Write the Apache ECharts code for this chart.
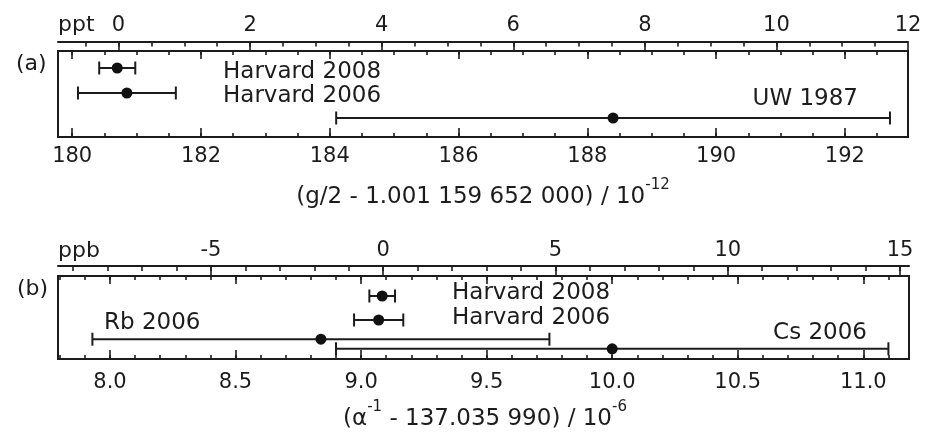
<!DOCTYPE html>
<html><head><meta charset="utf-8">
<script src="https://cdn.jsdelivr.net/npm/echarts@6/dist/echarts.min.js"></script>
<style>html,body{margin:0;padding:0;background:#fff}#c{width:935px;height:432px}</style>
</head><body><div id="c"></div>
<script>
// ---- data ----
const aNames = ['Harvard 2008', 'Harvard 2006', 'UW 1987'];
const aValues = [180.70, 180.85, 188.40];
const aErrors = [0.28, 0.76, 4.30];
const aRows = [0, 1, 2];

const bNames = ['Harvard 2008', 'Harvard 2006', 'Rb 2006', 'Cs 2006'];
const bValues = [9.084, 9.070, 8.84, 10.00];
const bErrors = [0.051, 0.098, 0.91, 1.10];
const bRows = [0, 1, 1.8, 2.2];

const aBottomTicks = [180, 182, 184, 186, 188, 190, 192];
const aTopTicks = [0, 2, 4, 6, 8, 10, 12];
const bBottomTicks = [8.0, 8.5, 9.0, 9.5, 10.0, 10.5, 11.0];
const bTopTicks = [-5, 0, 5, 10, 15];

const aTopUnit = 'ppt', bTopUnit = 'ppb';
const aPanel = '(a)', bPanel = '(b)';
const aTitleParts = ['(g/2 - 1.001 159 652 000) / 10', '-12'];
const bTitleParts = ['(\u03b1', '-1', ' - 137.035 990) / 10', '-6'];

// ---- helpers ----
function range(s, e, st) { const r = []; for (let v = s; v <= e + 1e-9; v += st) r.push(+v.toFixed(6)); return r; }
const INK = '#1c1c1c';
const FONT = 'DejaVu Sans';
const tickStyle = { color: INK, width: 1.6 };

function ax(o) {
  return Object.assign({
    type: 'value', axisLine: { show: false, onZero: false }, splitLine: { show: false },
    axisTick: { show: false }, axisLabel: { show: false }
  }, o);
}
function ticks(values, len) {
  return { show: true, inside: true, length: len, customValues: values, lineStyle: tickStyle };
}
function labels(values, margin, fmt) {
  return { show: true, customValues: values, margin: margin, color: INK, fontFamily: FONT, fontSize: 21, formatter: fmt };
}
const stripLine = { show: true, onZero: false, lineStyle: { color: INK, width: 2 } };

const aMin = 179.78, aMax = 192.98, aTopMin = -0.92, aTopMax = 12;
const bMin = 7.793, bMax = 11.182, bTopMin = -9.44, bTopMax = 15.26;

const grids = [
  // panel a
  { left: 58, right: 27, top: 51, height: 86, show: true, borderColor: INK, borderWidth: 2, backgroundColor: 'transparent' },
  { left: 58, right: 27, top: 51, height: 86 },
  { left: 58, right: 27, top: 42, height: 9 },
  { left: 58, right: 27, top: 42, height: 9 },
  // panel b
  { left: 58, right: 26, top: 276, height: 83, show: true, borderColor: INK, borderWidth: 2, backgroundColor: 'transparent' },
  { left: 58, right: 26, top: 276, height: 83 },
  { left: 58, right: 26, top: 266, height: 10 },
  { left: 58, right: 26, top: 266, height: 10 }
];

const xAxes = [
  // panel a
  ax({ gridIndex: 0, position: 'bottom', min: aMin, max: aMax, axisTick: ticks(aBottomTicks, 9), axisLabel: labels(aBottomTicks, 9, v => String(v)) }),
  ax({ gridIndex: 0, position: 'top', min: aMin, max: aMax, axisTick: ticks(aBottomTicks, 8) }),
  ax({ gridIndex: 1, position: 'bottom', min: aMin, max: aMax, axisTick: ticks(range(180, 192.5, 0.5), 4) }),
  ax({ gridIndex: 1, position: 'top', min: aMin, max: aMax, axisTick: ticks(range(180, 192.5, 0.5), 4) }),
  ax({ gridIndex: 2, position: 'top', min: aTopMin, max: aTopMax, axisLine: stripLine, axisTick: ticks(aTopTicks, 9), axisLabel: labels(aTopTicks, 6, v => String(v)) }),
  ax({ gridIndex: 3, position: 'top', min: aTopMin, max: aTopMax, axisTick: ticks(range(-0.5, 11.5, 0.5), 4.5) }),
  // panel b
  ax({ gridIndex: 4, position: 'bottom', min: bMin, max: bMax, axisTick: ticks(bBottomTicks, 9), axisLabel: labels(bBottomTicks, 13, v => v.toFixed(1)) }),
  ax({ gridIndex: 4, position: 'top', min: bMin, max: bMax, axisTick: ticks(bBottomTicks, 8) }),
  ax({ gridIndex: 5, position: 'bottom', min: bMin, max: bMax, axisTick: ticks(range(7.8, 11.1, 0.1), 4) }),
  ax({ gridIndex: 5, position: 'top', min: bMin, max: bMax, axisTick: ticks(range(7.8, 11.1, 0.1), 4) }),
  ax({ gridIndex: 6, position: 'top', min: bTopMin, max: bTopMax, axisLine: stripLine, axisTick: ticks(bTopTicks, 10), axisLabel: labels(bTopTicks, 5, v => String(v)) }),
  ax({ gridIndex: 7, position: 'top', min: bTopMin, max: bTopMax, axisTick: ticks(range(-9, 15, 1), 5) })
];

function hiddenY(g, min, max, inv) {
  return { type: 'value', gridIndex: g, min: min, max: max, inverse: !!inv, show: false, axisLine: { onZero: false } };
}
const yAxes = [
  hiddenY(0, -0.68, 2.76, true), hiddenY(1, 0, 1), hiddenY(2, 0, 1), hiddenY(3, 0, 1),
  hiddenY(4, -0.833, 2.625, true), hiddenY(5, 0, 1), hiddenY(6, 0, 1), hiddenY(7, 0, 1)
];

function errItem(params, api) {
  const v = api.value(0), e = api.value(1), r = api.value(2);
  const c = api.coord([v, r]);
  const lo = api.coord([v - e, r]);
  const hi = api.coord([v + e, r]);
  const st = { stroke: INK, lineWidth: 2 };
  const cap = 6.5;
  return {
    type: 'group', children: [
      { type: 'line', shape: { x1: lo[0], y1: lo[1], x2: hi[0], y2: hi[1] }, style: st },
      { type: 'line', shape: { x1: lo[0], y1: lo[1] - cap, x2: lo[0], y2: lo[1] + cap }, style: st },
      { type: 'line', shape: { x1: hi[0], y1: hi[1] - cap, x2: hi[0], y2: hi[1] + cap }, style: st },
      { type: 'circle', shape: { cx: c[0], cy: c[1], r: 5.5 }, style: { fill: '#111' } }
    ]
  };
}

function txt(text, x, y, align, size) {
  return { type: 'text', x: x, y: y, style: { text: text, fill: INK, font: size + 'px "' + FONT + '"', align: align, verticalAlign: 'middle' }, z: 10 };
}
function titleText(parts, x, y) {
  let t = '';
  parts.forEach((p, i) => { t += (i % 2 === 0 ? '{n|' : '{s|') + p + '}'; });
  return {
    type: 'text', x: x, y: y, z: 10,
    style: {
      text: t, align: 'center', verticalAlign: 'middle', fill: INK,
      rich: {
        n: { fontFamily: FONT, fontSize: 23, lineHeight: 31, verticalAlign: 'bottom', fill: INK },
        s: { fontFamily: FONT, fontSize: 15, lineHeight: 15, verticalAlign: 'top', fill: INK }
      }
    }
  };
}

const graphics = [
  txt(aPanel, 16, 64, 'left', 22),
  txt(bPanel, 17, 289, 'left', 22),
  txt(aTopUnit, 58, 25, 'left', 22),
  txt(bTopUnit, 58, 251, 'left', 22),
  txt(aNames[0], 223, 72, 'left', 23),
  txt(aNames[1], 223, 96, 'left', 23),
  txt(aNames[2], 858, 99, 'right', 23),
  txt(bNames[0], 452, 293, 'left', 23),
  txt(bNames[1], 452, 318, 'left', 23),
  txt(bNames[2], 104, 323, 'left', 23),
  txt(bNames[3], 867, 333, 'right', 23),
  titleText(aTitleParts, 483, 193.5),
  titleText(bTitleParts, 485, 415)
];

const chart = echarts.init(document.getElementById('c'), null, { renderer: 'canvas' });
chart.setOption({
  animation: false,
  backgroundColor: '#fff',
  grid: grids,
  xAxis: xAxes,
  yAxis: yAxes,
  series: [
    { type: 'custom', xAxisIndex: 0, yAxisIndex: 0, clip: false, renderItem: errItem, encode: { x: 0, y: 2 },
      data: aValues.map((v, i) => [v, aErrors[i], aRows[i], aNames[i]]) },
    { type: 'custom', xAxisIndex: 6, yAxisIndex: 4, clip: false, renderItem: errItem, encode: { x: 0, y: 2 },
      data: bValues.map((v, i) => [v, bErrors[i], bRows[i], bNames[i]]) }
  ],
  graphic: graphics
});
</script>
</body></html>
